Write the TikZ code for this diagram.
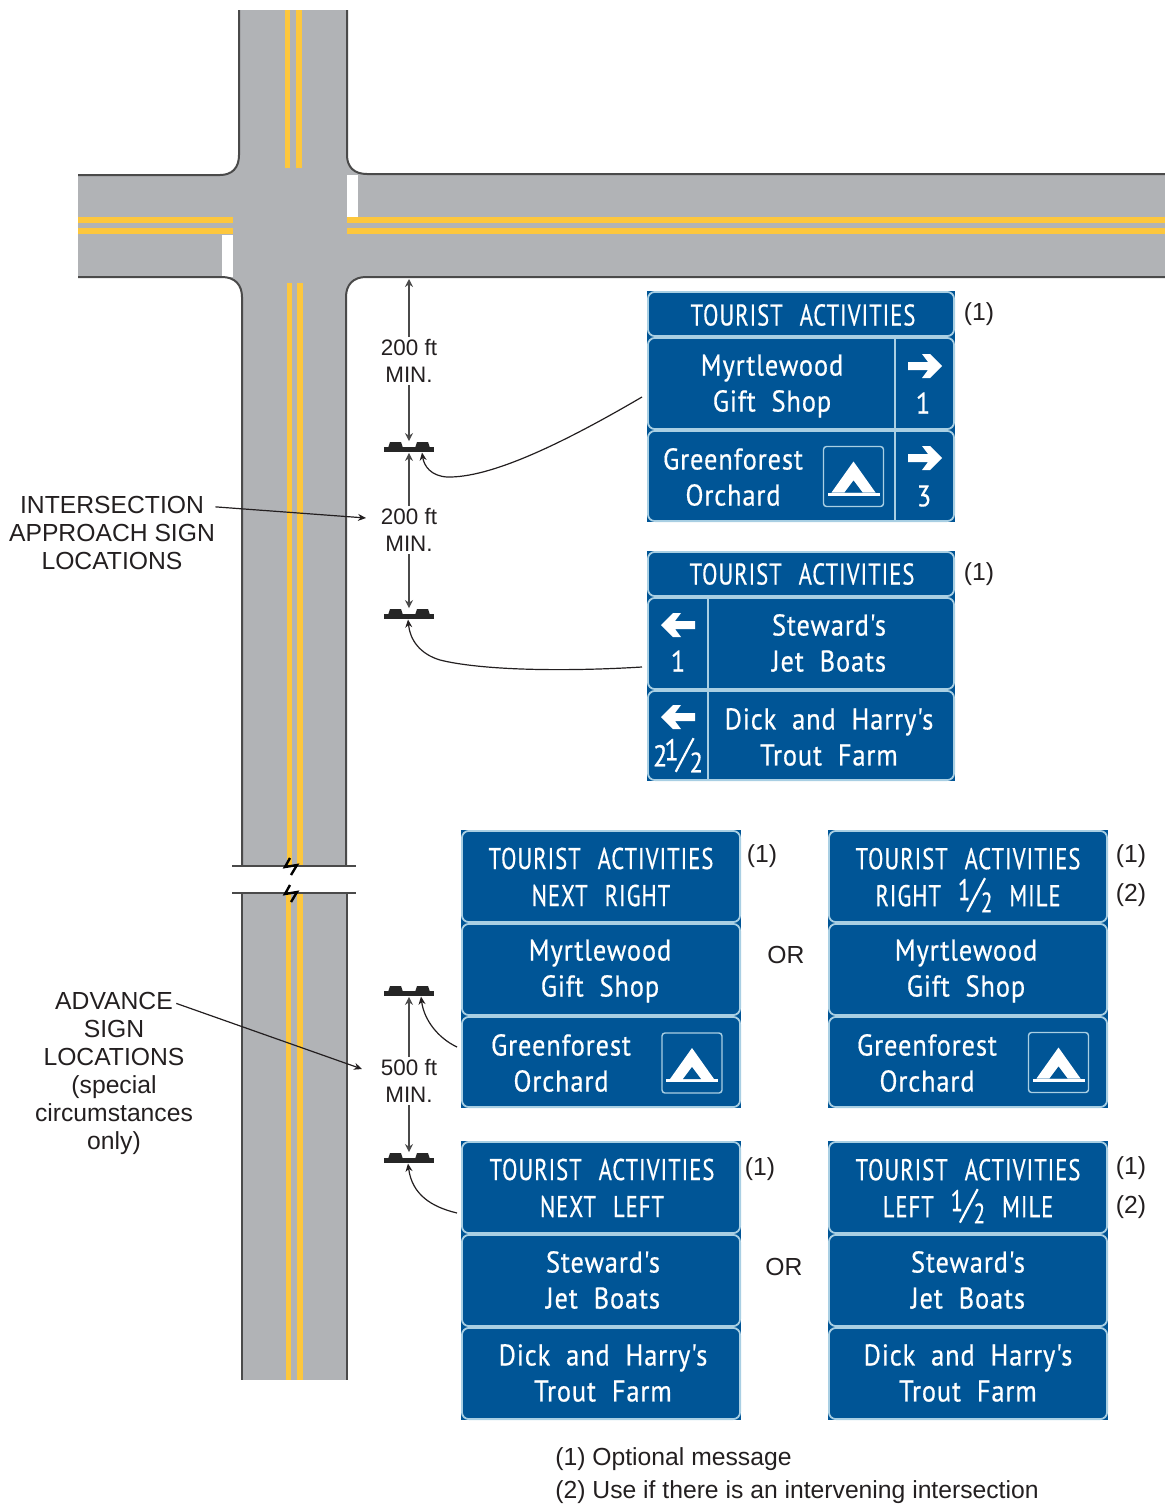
\documentclass[tikz,border=0pt]{standalone}
\usepackage{fontspec}
\usepackage{tikz}
\usetikzlibrary{arrows.meta,fit}
\setmainfont{Liberation Sans}
\newfontfamily\signfont[FakeStretch=0.88,FakeBold=0.5,LetterSpace=3,WordSpace=2]{PT Sans}
\newfontfamily\signcaps[FakeStretch=0.75,FakeBold=0.5,LetterSpace=3.5,WordSpace=2.4]{PT Sans}
\definecolor{signblue}{HTML}{005596}
\definecolor{panelblue}{HTML}{A9CFE3}
\definecolor{roadgray}{HTML}{B1B3B6}
\definecolor{roadyellow}{HTML}{FDC73D}
\definecolor{curbgray}{HTML}{4A4A4A}
\definecolor{inktext}{HTML}{231F20}
\tikzset{
  panelnode/.style={draw=panelblue,line width=0.9pt,fill=signblue,rounded corners=3.5pt,inner sep=-0.45pt},
  signtext/.style={text=white,align=center,inner sep=0pt,font=\signfont\fontsize{15}{18}\selectfont},
  capstext/.style={text=white,align=center,inner sep=0pt,font=\signcaps\fontsize{15}{18.5}\selectfont},
  notetext/.style={text=inktext,align=center,inner sep=1pt,font=\fontsize{12.35}{14}\selectfont},
  dimtext/.style={text=inktext,align=center,inner sep=1pt,font=\fontsize{11.2}{13.5}\selectfont},
  curb/.style={draw=curbgray,line width=1pt},
  dimline/.style={draw=curbgray,line width=0.8pt,-{Stealth[length=4pt,width=4pt]}},
  leader/.style={draw=inktext,line width=0.6pt,-{Stealth[length=4pt,width=3.5pt]}},
  postnode/.style={minimum width=25pt,minimum height=5.5pt,inner sep=0pt},
  divider/.style={draw=panelblue,line width=1pt}
}
\newcommand{\panelbox}[5]{
  \fill[signblue] (#2,#3) rectangle (#4,#5);
  \node[panelnode,fit={(#2,#3) (#4,#5)}] (#1) {};
}
\newcommand{\signpost}[3]{
  \fill[black!85] (#2-25,#3) rectangle (#2+25,#3+5);
  \fill[black!85] (#2-21,#3+1) -- (#2-19,#3-5) -- (#2-8,#3-5) -- (#2-6,#3+1) -- cycle;
  \fill[black!85] (#2+6,#3+1) -- (#2+8,#3-5) -- (#2+19,#3-5) -- (#2+21,#3+1) -- cycle;
  \node[postnode] (#1) at (#2,#3) {};
}
\newcommand{\signarrow}[3]{
  \fill[white,shift={(#1,#2)},xscale=#3] (-17,-4) -- (3,-4) -- (-3,-12) -- (5,-12) -- (17,0) -- (5,12) -- (-3,12) -- (3,4) -- (-17,4) -- cycle;
}
\newcommand{\tentsign}[3]{
  \node[draw=panelblue,line width=0.7pt,rounded corners=1.5pt,minimum size=30pt,inner sep=0pt] (#1) at (#2,#3) {};
  \fill[white] (#2,#3-15) -- (#2+22,#3+16) -- (#2-22,#3+16) -- cycle;
  \fill[white] (#2-26,#3+16) rectangle (#2+26,#3+19);
  \fill[signblue] (#2,#3+4) -- (#2+9,#3+16) -- (#2-9,#3+16) -- cycle;
}
\newcommand{\halfsign}{\raisebox{3pt}{\fontsize{15}{15}\selectfont 1}\kern-2pt\raisebox{-3pt}{\rotatebox{62}{\rule{19pt}{1.1pt}}}\kern-2.5pt\raisebox{-3pt}{\fontsize{14}{14}\selectfont 2}}
\begin{document}
\begin{tikzpicture}[x=0.5pt,y=-0.5pt]
\useasboundingbox (0,0) rectangle (1165,1505);

\fill[roadgray] (239,10) -- (239,155) .. controls (239,168) and (232,175) .. (220,175) -- (78,175) -- (78,277) -- (222,277) .. controls (235,277) and (242,285) .. (242,297) -- (242,866) -- (346,866) -- (346,297) .. controls (346,285) and (353,277) .. (366,277) -- (1165,277) -- (1165,174) -- (367,174) .. controls (354,174) and (347,167) .. (347,155) -- (347,10) -- cycle;
\fill[roadgray] (242,893) rectangle (347,1380);
\fill[white] (347,175) rectangle (358,217);
\fill[white] (222,235) rectangle (233,277);

\fill[roadyellow] (285,10) rectangle (290,168);
\fill[roadyellow] (296,10) rectangle (302,168);
\fill[roadyellow] (287,283) rectangle (292,866);
\fill[roadyellow] (297,283) rectangle (303,866);
\fill[roadyellow] (286,893) rectangle (291,1380);
\fill[roadyellow] (297,893) rectangle (303,1380);
\fill[roadyellow] (78,217) rectangle (233,223);
\fill[roadyellow] (78,228) rectangle (233,234);
\fill[roadyellow] (347,217) rectangle (1165,223);
\fill[roadyellow] (347,228) rectangle (1165,234);

\draw[curb] (239,10) -- (239,155) .. controls (239,168) and (232,175) .. (220,175) -- (78,175);
\draw[curb] (347,10) -- (347,155) .. controls (347,167) and (354,174) .. (367,174) -- (1165,174);
\draw[curb] (78,277) -- (222,277) .. controls (235,277) and (242,285) .. (242,297) -- (242,866);
\draw[curb] (1165,277) -- (366,277) .. controls (353,277) and (346,285) .. (346,297) -- (346,866);
\draw[curb] (242,893) -- (242,1380);
\draw[curb] (347,893) -- (347,1380);
\draw[curb] (232,866) -- (356,866);
\draw[curb] (232,893) -- (356,893);
\draw[curb,draw=black,line width=1.2pt] (290,858) -- (285,867) -- (297,865) -- (291,875);
\draw[curb,draw=black,line width=1.2pt] (290,885) -- (285,894) -- (297,892) -- (291,902);

\signpost{postA}{409}{447}
\signpost{postB}{409}{614}
\signpost{postC}{409}{991}
\signpost{postD}{409}{1158}
\coordinate (curbA) at (409,279);
\node[dimtext] (dimA) at (409,361) {200 ft\\MIN.};
\node[dimtext] (dimB) at (409,530) {200 ft\\MIN.};
\node[dimtext] (dimC) at (409,1081) {500 ft\\MIN.};
\draw[dimline] (dimA) -- (curbA);
\draw[dimline] (dimA) -- (postA);
\draw[dimline] (dimB) -- (postA);
\draw[dimline] (dimB) -- (postB);
\draw[dimline] (dimC) -- (postC);
\draw[dimline] (dimC) -- (postD);

\node[notetext] (approach) at (112,533) {INTERSECTION\\APPROACH SIGN\\LOCATIONS};
\node[notetext] (advance) at (114,1073) {ADVANCE\\SIGN\\LOCATIONS\\(special\\circumstances\\only)};
\coordinate (approachEnd) at (366,518);
\coordinate (advanceEnd) at (362,1069);
\draw[leader] (approach.north east) ++(-2,13) -- (approachEnd);
\draw[leader] (advance.north east) ++(-19,14) -- (advanceEnd);

\panelbox{headA}{647}{291}{955}{337}
\panelbox{myrtleA}{647}{337}{955}{430}
\panelbox{greenA}{647}{430}{955}{522}
\draw[divider] (895,339) -- (895,522);
\node[capstext] (headAtext) at (803,315) {TOURIST ACTIVITIES};
\node[signtext] (myrtleAtext) at (772,386) {Myrtlewood\\Gift Shop};
\node[signtext] (greenAtext) at (733,477) {Greenforest\\Orchard};
\signarrow{925}{366}{1}
\signarrow{925}{458}{1}
\node[signtext] (distA) at (923,403) {1};
\node[signtext] (distB) at (924,496) {3};
\tentsign{tentA}{853.5}{476.5}
\node[notetext] (noteA) at (979,314) {(1)};

\panelbox{headB}{647}{551}{955}{597}
\panelbox{stewardB}{647}{597}{955}{690}
\panelbox{dickB}{647}{690}{955}{781}
\draw[divider] (708,599) -- (708,781);
\node[capstext] (headBtext) at (802,574) {TOURIST ACTIVITIES};
\node[signtext] (stewardBtext) at (829,643) {Steward's\\Jet Boats};
\node[signtext] (dickBtext) at (829,737) {Dick and Harry's\\Trout Farm};
\signarrow{678}{625}{-1}
\signarrow{678}{717}{-1}
\node[signtext] (distC) at (678,661) {1};
\node[signtext] (distD) at (678,755) {2\kern-1.5pt\halfsign};
\node[notetext] (noteB) at (979,574) {(1)};

\panelbox{headC}{461}{830}{741}{923}
\panelbox{myrtleC}{461}{923}{741}{1016}
\panelbox{greenC}{461}{1016}{741}{1108}
\node[capstext] (headCtext) at (601,877) {TOURIST ACTIVITIES\\NEXT RIGHT};
\node[signtext] (myrtleCtext) at (600,971) {Myrtlewood\\Gift Shop};
\node[signtext] (greenCtext) at (561,1063) {Greenforest\\Orchard};
\tentsign{tentC}{692}{1063}
\node[notetext] (noteC) at (762,856) {(1)};
\node[notetext] (orC) at (786,955) {OR};

\panelbox{headD}{828}{830}{1108}{923}
\panelbox{myrtleD}{828}{923}{1108}{1016}
\panelbox{greenD}{828}{1016}{1108}{1108}
\node[capstext] (headDtext) at (968,880) {TOURIST ACTIVITIES\\RIGHT \halfsign{} MILE};
\node[signtext] (myrtleDtext) at (966,971) {Myrtlewood\\Gift Shop};
\node[signtext] (greenDtext) at (927,1063) {Greenforest\\Orchard};
\tentsign{tentD}{1058.5}{1062.5}
\node[notetext] (noteD) at (1131,856) {(1)};
\node[notetext] (noteE) at (1131,895) {(2)};

\panelbox{headE}{461}{1141}{741}{1234}
\panelbox{stewardE}{461}{1234}{741}{1327}
\panelbox{dickE}{461}{1327}{741}{1420}
\node[capstext] (headEtext) at (602,1188) {TOURIST ACTIVITIES\\NEXT LEFT};
\node[signtext] (stewardEtext) at (603,1280) {Steward's\\Jet Boats};
\node[signtext] (dickEtext) at (603,1373) {Dick and Harry's\\Trout Farm};
\node[notetext] (noteF) at (760,1169) {(1)};
\node[notetext] (orE) at (784,1267) {OR};

\panelbox{headF}{828}{1141}{1108}{1234}
\panelbox{stewardF}{828}{1234}{1108}{1327}
\panelbox{dickF}{828}{1327}{1108}{1420}
\node[capstext] (headFtext) at (968,1191) {TOURIST ACTIVITIES\\LEFT \halfsign{} MILE};
\node[signtext] (stewardFtext) at (968,1280) {Steward's\\Jet Boats};
\node[signtext] (dickFtext) at (968,1373) {Dick and Harry's\\Trout Farm};
\node[notetext] (noteG) at (1131,1168) {(1)};
\node[notetext] (noteH) at (1131,1207) {(2)};

\coordinate (tailA) at (642,397);
\coordinate (tailB) at (642,667);
\coordinate (tailC) at (457,1047);
\coordinate (tailD) at (457,1213);
\coordinate (headPostA) at (422,452.5);
\coordinate (headPostB) at (408,619.5);
\coordinate (headPostC) at (421,996.5);
\coordinate (headPostD) at (408,1163.5);
\draw[leader] (tailA) .. controls (560,445) and (490,478) .. (447,477) .. controls (431,476) and (424,466) .. (headPostA);
\draw[leader] (tailB) .. controls (560,672) and (480,670) .. (440,660) .. controls (420,654) and (410,640) .. (headPostB);
\draw[leader] (tailC) .. controls (438,1038) and (424,1020) .. (headPostC);
\draw[leader] (tailD) .. controls (432,1207) and (412,1195) .. (headPostD);

\node[notetext,anchor=west,inner sep=0pt] (optional) at (555,1459) {(1) Optional message};
\node[notetext,anchor=west,inner sep=0pt] (intervening) at (555,1492) {(2) Use if there is an intervening intersection};
\end{tikzpicture}
\end{document}
